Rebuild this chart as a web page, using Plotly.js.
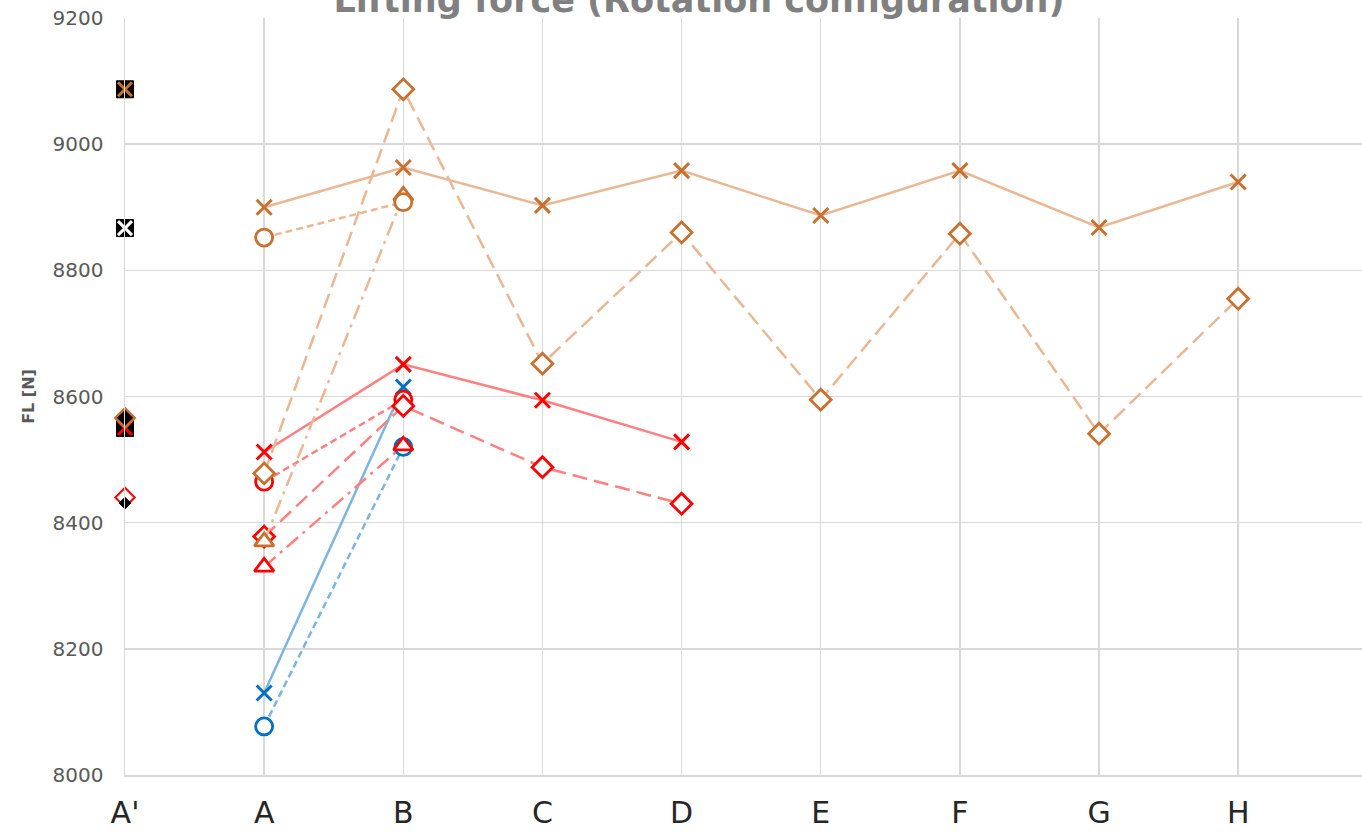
<!DOCTYPE html>
<html>
<head>
<meta charset="utf-8">
<script src="https://cdn.plot.ly/plotly-3.0.1.min.js"></script>
<style>html,body{margin:0;padding:0;background:#fff;}#chart{width:1362px;height:832px;}</style>
</head>
<body>
<div id="chart"></div>
<script>
// Categories
const categories = ["A'", "A", "B", "C", "D", "E", "F", "G", "H"];

// Orange series (values per category; null = no point)
const orangeCrossSolid   = [null, 8900, 8963, 8903, 8958, 8887, 8958, 8868, 8940];
const orangeDiamondDash  = [null, 8478, 9087, 8652, 8860, 8595, 8858, 8541, 8755];
const orangeCircleDot    = [null, 8852, 8908];
const orangeTriangleDD   = [null, 8370, 8918];

// Red series
const redCrossSolid      = [null, 8512, 8651, 8594, 8528];
const redDiamondDash     = [null, 8378, 8585, 8488, 8430];
const redCircleDot       = [null, 8465, 8595];
const redTriangleDD      = [null, 8330, 8522];

// Blue series
const blueCrossSolid     = [null, 8130, 8615];
const blueCircleDot      = [null, 8077, 8520];

// Reference markers at A'
const refOrangeCross     = [9087];
const refWhiteCross      = [8867];
const refRedCross        = [8550];
const refOrangeDiamond   = [8566];
const refRedDiamond      = [8440];
const refBlackDiamond    = [8431];

const ORM = '#C9702F', ORL = '#EAB794';
const RDM = '#FF0000', RDL = '#FF8080';
const BLM = '#0070C0', BLL = '#7DB4E0';

const LONG = '15px,7px', SHORT = '7px,4px', DASHDOT = '15px,6px,3px,6px';

function series(vals, mcol, lcol, sym, dash, size) {
  const isX = sym === 'x-thin';
  return {
    type: 'scatter', mode: 'lines+markers',
    x: categories.slice(0, vals.length), y: vals,
    line: {color: lcol, width: 2.5, dash: dash},
    marker: {symbol: isX ? 'x-thin-open' : sym, size: size,
             color: isX ? mcol : '#ffffff',
             line: {color: mcol, width: isX ? 3 : 2.8}},
    hoverinfo: 'skip', showlegend: false, cliponaxis: false
  };
}
function ref(vals, sym, fill, lcol, lw, size) {
  return {
    type: 'scatter', mode: 'markers',
    x: vals.map(() => categories[0]), y: vals,
    marker: {symbol: sym, size: size, color: fill, line: {color: lcol, width: lw}},
    hoverinfo: 'skip', showlegend: false, cliponaxis: false
  };
}

const traces = [
  series(blueCircleDot, BLM, BLL, 'circle', SHORT, 17),
  series(blueCrossSolid, BLM, BLL, 'x-thin', 'solid', 15),
  series(redTriangleDD, RDM, RDL, 'triangle-up', DASHDOT, 17),
  series(redCircleDot, RDM, RDL, 'circle', SHORT, 17),
  series(redDiamondDash, RDM, RDL, 'diamond', LONG, 16),
  series(redCrossSolid, RDM, RDL, 'x-thin', 'solid', 15),
  series(orangeTriangleDD, ORM, ORL, 'triangle-up', DASHDOT, 17),
  series(orangeCircleDot, ORM, ORL, 'circle', SHORT, 17),
  series(orangeDiamondDash, ORM, ORL, 'diamond', LONG, 16),
  series(orangeCrossSolid, ORM, ORL, 'x-thin', 'solid', 15),
  // A' reference markers
  ref(refOrangeCross, 'square', '#000000', '#000000', 1, 17),
  ref(refOrangeCross, 'x-thin-open', ORM, ORM, 3, 14),
  ref(refWhiteCross, 'square', '#000000', '#000000', 1, 17),
  ref(refWhiteCross, 'x-thin-open', '#ffffff', '#ffffff', 3, 14),
  ref(refRedCross, 'square', '#000000', '#000000', 1, 17),
  ref(refRedCross, 'x-thin-open', RDM, RDM, 3, 14),
  ref(refOrangeDiamond, 'diamond', '#000000', ORM, 2.5, 15),
  ref(refRedDiamond, 'diamond', '#ffffff', RDM, 2, 15),
  ref(refBlackDiamond, 'diamond', '#000000', '#000000', 1, 9)
];

const layout = {
  width: 1362, height: 832,
  margin: {l: 125, r: 0, t: 18, b: 57},
  paper_bgcolor: '#ffffff', plot_bgcolor: '#ffffff',
  font: {family: 'DejaVu Sans', color: '#595959'},
  title: {
    text: '<b>Lifting force (Rotation configuration)</b>',
    font: {family: 'DejaVu Sans', size: 35, color: '#808080'},
    x: 699 / 1362, xref: 'container', xanchor: 'center',
    y: 1.0, yref: 'container', yanchor: 'middle'
  },
  xaxis: {
    type: 'category', categoryorder: 'array', categoryarray: categories,
    range: [0, 8.89],
    showgrid: true, gridcolor: '#D9D9D9', gridwidth: 1.5,
    showline: true, linecolor: '#D9D9D9', linewidth: 1.5,
    ticks: '', ticklabelstandoff: 10,
    tickfont: {family: 'DejaVu Sans', size: 30, color: '#262626'},
    automargin: false, zeroline: false
  },
  yaxis: {
    range: [8000, 9200], dtick: 200, tick0: 8000,
    showgrid: true, gridcolor: '#D9D9D9', gridwidth: 1.5,
    showline: true, linecolor: '#D9D9D9', linewidth: 1.5,
    ticks: '', ticklabelstandoff: 16,
    tickfont: {family: 'DejaVu Sans', size: 20, color: '#595959'},
    title: {text: '<b>FL [N]</b>', font: {family: 'DejaVu Sans', size: 16, color: '#595959'}, standoff: 14},
    automargin: false, zeroline: false
  }
};

Plotly.newPlot('chart', traces, layout, {displayModeBar: false, staticPlot: true});
</script>
</body>
</html>
